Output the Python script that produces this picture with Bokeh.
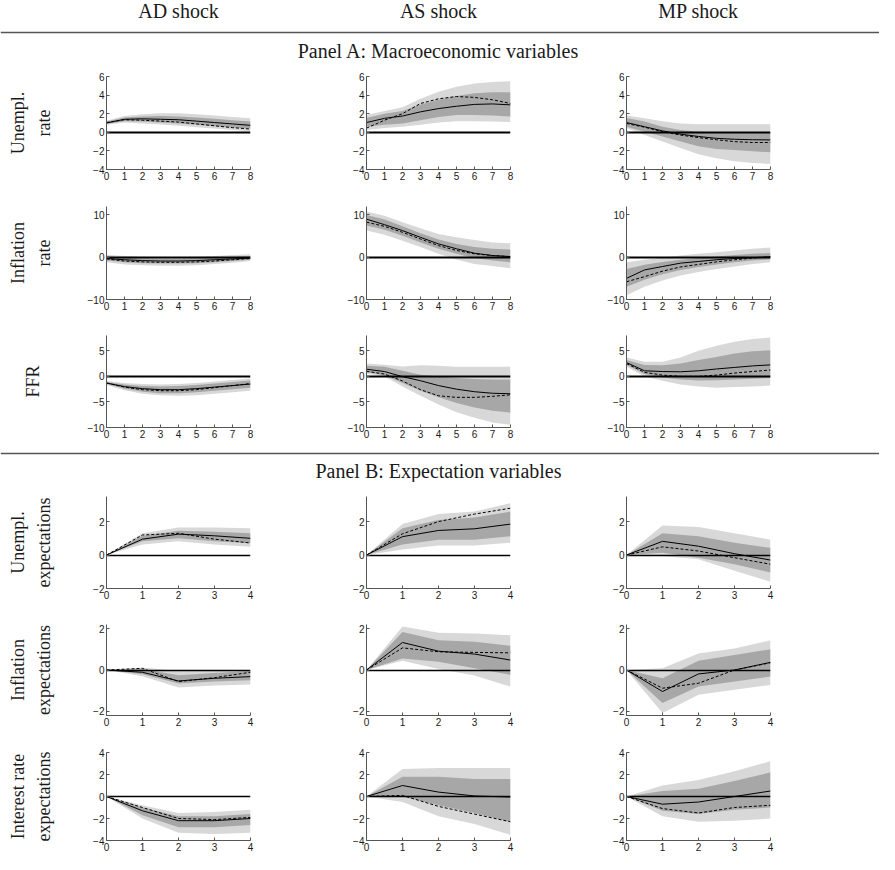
import math
from bokeh.plotting import figure
from bokeh.layouts import row, column
from bokeh.models import Range1d, FixedTicker
from bokeh.core.properties import value
from bokeh.embed import file_html
from bokeh.resources import INLINE

# ---------------- data ----------------
H8 = [0, 1, 2, 3, 4, 5, 6, 7, 8]
H4 = [0, 1, 2, 3, 4]

SHOCKS = ["AD shock", "AS shock", "MP shock"]
PANEL_A = "Panel A: Macroeconomic variables"
PANEL_B = "Panel B: Expectation variables"
ROW_LABELS = [["Unempl.", "rate"], ["Inflation", "rate"], ["FFR"],
              ["Unempl.", "expectations"], ["Inflation", "expectations"],
              ["Interest rate", "expectations"]]
Y_LIMITS = [(-4, 6), (-10, 12), (-10, 8), (-2, 3.5), (-2.2, 2.2), (-4, 4)]
Y_TICKS = [[-4, -2, 0, 2, 4, 6], [-10, 0, 10], [-10, -5, 0, 5],
           [-2, 0, 2], [-2, 0, 2], [-4, -2, 0, 2, 4]]
HORIZONS = [H8, H8, H8, H4, H4, H4]

# Unemployment rate
ur_ad_solid = [1.0, 1.4, 1.45, 1.4, 1.35, 1.2, 1.05, 0.9, 0.75]
ur_ad_dash = [1.05, 1.35, 1.3, 1.2, 1.1, 0.9, 0.7, 0.5, 0.35]
ur_ad_in_lo = [0.9, 1.2, 1.15, 1.05, 0.95, 0.8, 0.65, 0.5, 0.4]
ur_ad_in_hi = [1.15, 1.6, 1.7, 1.75, 1.7, 1.6, 1.45, 1.3, 1.15]
ur_ad_out_lo = [0.8, 1.05, 0.95, 0.85, 0.7, 0.55, 0.4, 0.25, 0.1]
ur_ad_out_hi = [1.25, 1.75, 1.95, 2.05, 2.05, 1.95, 1.8, 1.65, 1.5]

ur_as_solid = [1.05, 1.5, 1.75, 2.2, 2.55, 2.8, 3.0, 3.05, 2.95]
ur_as_dash = [0.45, 1.3, 2.0, 3.1, 3.6, 3.85, 3.75, 3.5, 3.1]
ur_as_in_lo = [0.6, 0.8, 0.95, 1.3, 1.65, 1.85, 1.85, 1.8, 1.7]
ur_as_in_hi = [1.55, 2.0, 2.3, 3.0, 3.5, 3.9, 4.2, 4.3, 4.3]
ur_as_out_lo = [0.25, 0.45, 0.6, 0.8, 1.05, 1.2, 1.2, 1.15, 1.1]
ur_as_out_hi = [1.85, 2.3, 2.7, 3.6, 4.35, 4.9, 5.25, 5.4, 5.5]

ur_mp_solid = [1.05, 0.6, 0.15, -0.2, -0.45, -0.65, -0.75, -0.8, -0.82]
ur_mp_dash = [0.95, 0.55, 0.07, -0.3, -0.57, -0.8, -1.0, -1.1, -1.1]
ur_mp_in_lo = [0.6, 0.07, -0.45, -1.0, -1.5, -1.8, -1.9, -2.05, -2.15]
ur_mp_in_hi = [1.55, 1.15, 0.6, 0.25, 0.07, 0.0, 0.0, -0.02, -0.03]
ur_mp_out_lo = [0.45, -0.3, -1.0, -1.7, -2.35, -2.8, -3.1, -3.3, -3.4]
ur_mp_out_hi = [1.8, 1.5, 1.2, 0.95, 0.86, 0.86, 0.86, 0.86, 0.86]

# Inflation rate
inf_ad_solid = [-0.3, -0.6, -0.8, -0.9, -0.9, -0.8, -0.6, -0.4, -0.2]
inf_ad_dash = [-0.4, -0.9, -1.1, -1.2, -1.2, -1.1, -0.9, -0.6, -0.3]
inf_ad_in_lo = [-0.8, -1.2, -1.4, -1.5, -1.5, -1.4, -1.2, -0.9, -0.6]
inf_ad_in_hi = [0.2, -0.1, -0.3, -0.4, -0.4, -0.3, -0.1, 0.1, 0.3]
inf_ad_out_lo = [-1.2, -1.7, -1.9, -2.0, -2.0, -1.9, -1.6, -1.3, -0.9]
inf_ad_out_hi = [0.6, 0.3, 0.1, 0.0, 0.0, 0.1, 0.3, 0.5, 0.7]

inf_as_solid = [9.0, 7.7, 6.3, 4.7, 3.15, 2.0, 0.95, 0.4, 0.15]
inf_as_dash = [8.3, 7.3, 5.9, 4.3, 2.75, 1.6, 0.8, 0.4, 0.15]
inf_as_in_lo = [7.5, 6.5, 5.1, 3.5, 2.0, 0.8, -0.2, -0.8, -1.2]
inf_as_in_hi = [10.0, 8.9, 7.3, 5.7, 4.2, 3.15, 2.4, 2.0, 1.8]
inf_as_out_lo = [6.3, 5.3, 3.9, 2.4, 0.8, -0.55, -1.6, -2.1, -2.6]
inf_as_out_hi = [10.8, 9.8, 8.3, 6.85, 5.5, 4.7, 4.1, 3.5, 3.3]

inf_mp_solid = [-5.0, -3.0, -2.2, -1.4, -1.0, -0.6, -0.3, -0.1, 0.1]
inf_mp_dash = [-5.8, -4.6, -3.3, -2.3, -1.7, -1.1, -0.6, -0.2, 0.1]
inf_mp_in_lo = [-7.0, -5.3, -4.0, -3.0, -2.3, -1.7, -1.2, -0.8, -0.5]
inf_mp_in_hi = [-2.8, -1.8, -1.1, -0.6, -0.2, 0.2, 0.5, 0.8, 1.0]
inf_mp_out_lo = [-9.0, -7.0, -5.5, -4.3, -3.5, -2.8, -2.2, -1.6, -1.2]
inf_mp_out_hi = [-1.2, -0.6, -0.1, 0.4, 0.8, 1.2, 1.6, 2.0, 2.3]

# Federal funds rate
ffr_ad_solid = [-1.3, -2.0, -2.4, -2.6, -2.6, -2.4, -2.1, -1.8, -1.5]
ffr_ad_dash = [-1.3, -2.1, -2.6, -2.8, -2.8, -2.6, -2.2, -1.8, -1.4]
ffr_ad_in_lo = [-1.5, -2.4, -3.0, -3.3, -3.3, -3.1, -2.8, -2.5, -2.2]
ffr_ad_in_hi = [-1.1, -1.6, -1.9, -2.0, -1.9, -1.7, -1.4, -1.1, -0.8]
ffr_ad_out_lo = [-1.7, -2.7, -3.4, -3.7, -3.8, -3.7, -3.4, -3.1, -2.8]
ffr_ad_out_hi = [-0.9, -1.3, -1.5, -1.6, -1.5, -1.3, -1.0, -0.7, -0.4]

ffr_as_solid = [1.4, 0.95, -0.05, -0.85, -1.8, -2.5, -3.0, -3.3, -3.4]
ffr_as_dash = [1.0, 0.45, -0.9, -2.6, -3.8, -4.1, -4.1, -3.9, -3.6]
ffr_as_in_lo = [0.8, 0.2, -1.3, -2.8, -4.1, -5.2, -6.1, -6.7, -7.1]
ffr_as_in_hi = [2.1, 1.9, 1.1, 0.3, 0.0, -0.3, -0.5, -0.6, -0.6]
ffr_as_out_lo = [0.5, 0.0, -2.0, -3.8, -5.5, -7.0, -8.1, -9.0, -9.5]
ffr_as_out_hi = [2.5, 2.3, 1.95, 2.2, 2.1, 1.9, 1.9, 1.9, 1.9]

ffr_mp_solid = [2.7, 1.1, 0.95, 0.9, 1.1, 1.45, 1.75, 2.05, 2.25]
ffr_mp_dash = [2.5, 0.8, 0.25, 0.0, 0.0, 0.25, 0.65, 0.95, 1.25]
ffr_mp_in_lo = [2.25, 0.45, -0.2, -0.6, -0.8, -0.75, -0.6, -0.45, -0.3]
ffr_mp_in_hi = [3.2, 2.25, 2.2, 2.5, 3.2, 3.8, 4.5, 4.9, 5.1]
ffr_mp_out_lo = [1.9, 0.0, -0.85, -1.6, -2.0, -2.2, -2.1, -2.0, -1.8]
ffr_mp_out_hi = [3.7, 2.85, 2.85, 3.7, 5.0, 6.0, 6.8, 7.3, 7.6]

# Unemployment expectations
ue_ad_solid = [0, 0.95, 1.25, 1.15, 1.0]
ue_ad_dash = [0, 1.2, 1.3, 0.95, 0.72]
ue_ad_in_lo = [0, 0.82, 1.0, 0.82, 0.7]
ue_ad_in_hi = [0, 1.15, 1.45, 1.4, 1.3]
ue_ad_out_lo = [0, 0.63, 0.82, 0.63, 0.5]
ue_ad_out_hi = [0, 1.3, 1.65, 1.65, 1.6]

ue_as_solid = [0, 1.1, 1.47, 1.57, 1.85]
ue_as_dash = [0, 1.27, 2.0, 2.45, 2.8]
ue_as_in_lo = [0, 0.63, 0.92, 0.92, 1.12]
ue_as_in_hi = [0, 1.6, 2.1, 2.25, 2.6]
ue_as_out_lo = [0, 0.33, 0.57, 0.57, 0.73]
ue_as_out_hi = [0, 1.86, 2.45, 2.6, 3.1]

ue_mp_solid = [0, 0.82, 0.53, 0.08, -0.3]
ue_mp_dash = [0, 0.49, 0.24, -0.16, -0.55]
ue_mp_in_lo = [0, 0.14, -0.16, -0.55, -1.04]
ue_mp_in_hi = [0, 1.31, 1.12, 0.73, 0.43]
ue_mp_out_lo = [0, -0.06, -0.25, -0.94, -1.59]
ue_mp_out_hi = [0, 1.76, 1.67, 1.31, 0.92]

# Inflation expectations
ie_ad_solid = [0, -0.11, -0.53, -0.4, -0.32]
ie_ad_dash = [0, 0.08, -0.56, -0.37, -0.11]
ie_ad_in_lo = [0, -0.2, -0.65, -0.55, -0.5]
ie_ad_in_hi = [0, 0.05, -0.25, -0.15, -0.05]
ie_ad_out_lo = [0, -0.3, -0.85, -0.75, -0.7]
ie_ad_out_hi = [0, 0.12, -0.05, -0.02, 0.0]

ie_as_solid = [0, 1.33, 0.91, 0.77, 0.48]
ie_as_dash = [0, 1.07, 0.88, 0.85, 0.83]
ie_as_in_lo = [0, 0.56, 0.4, 0.08, -0.24]
ie_as_in_hi = [0, 1.84, 1.44, 1.36, 1.17]
ie_as_out_lo = [0, 0.45, 0.05, -0.27, -0.8]
ie_as_out_hi = [0, 2.1, 1.8, 1.76, 1.68]

ie_mp_solid = [0, -1.04, -0.19, 0.0, 0.37]
ie_mp_dash = [0, -0.88, -0.64, 0.0, 0.35]
ie_mp_in_lo = [0, -1.6, -0.8, -0.56, -0.32]
ie_mp_in_hi = [0, -0.4, 0.45, 0.72, 1.0]
ie_mp_out_lo = [0, -2.08, -1.2, -0.96, -0.72]
ie_mp_out_hi = [0, 0.08, 0.8, 1.04, 1.44]

# Interest rate expectations
re_ad_solid = [0, -1.3, -2.2, -2.2, -2.0]
re_ad_dash = [0, -1.0, -2.0, -2.1, -1.9]
re_ad_in_lo = [0, -1.7, -2.8, -2.8, -2.6]
re_ad_in_hi = [0, -1.0, -1.8, -1.8, -1.6]
re_ad_out_lo = [0, -2.0, -3.3, -3.4, -3.3]
re_ad_out_hi = [0, -0.8, -1.5, -1.4, -1.2]

re_as_solid = [0, 1.0, 0.4, 0.05, -0.05]
re_as_dash = [0, 0.1, -0.9, -1.6, -2.3]
re_as_in_lo = [0, 0.0, -0.8, -1.5, -2.3]
re_as_in_hi = [0, 1.8, 1.8, 1.6, 1.6]
re_as_out_lo = [0, -0.5, -1.8, -2.5, -3.5]
re_as_out_hi = [0, 2.5, 2.6, 2.6, 2.6]

re_mp_solid = [0, -0.7, -0.5, 0.0, 0.5]
re_mp_dash = [0, -1.1, -1.5, -1.0, -0.8]
re_mp_in_lo = [0, -1.3, -1.6, -1.2, -1.0]
re_mp_in_hi = [0, 0.5, 0.7, 1.4, 2.2]
re_mp_out_lo = [0, -1.8, -2.3, -2.2, -2.0]
re_mp_out_hi = [0, 1.0, 1.5, 2.3, 3.2]

PANELS = [
    [(ur_ad_solid, ur_ad_dash, ur_ad_in_lo, ur_ad_in_hi, ur_ad_out_lo, ur_ad_out_hi),
     (ur_as_solid, ur_as_dash, ur_as_in_lo, ur_as_in_hi, ur_as_out_lo, ur_as_out_hi),
     (ur_mp_solid, ur_mp_dash, ur_mp_in_lo, ur_mp_in_hi, ur_mp_out_lo, ur_mp_out_hi)],
    [(inf_ad_solid, inf_ad_dash, inf_ad_in_lo, inf_ad_in_hi, inf_ad_out_lo, inf_ad_out_hi),
     (inf_as_solid, inf_as_dash, inf_as_in_lo, inf_as_in_hi, inf_as_out_lo, inf_as_out_hi),
     (inf_mp_solid, inf_mp_dash, inf_mp_in_lo, inf_mp_in_hi, inf_mp_out_lo, inf_mp_out_hi)],
    [(ffr_ad_solid, ffr_ad_dash, ffr_ad_in_lo, ffr_ad_in_hi, ffr_ad_out_lo, ffr_ad_out_hi),
     (ffr_as_solid, ffr_as_dash, ffr_as_in_lo, ffr_as_in_hi, ffr_as_out_lo, ffr_as_out_hi),
     (ffr_mp_solid, ffr_mp_dash, ffr_mp_in_lo, ffr_mp_in_hi, ffr_mp_out_lo, ffr_mp_out_hi)],
    [(ue_ad_solid, ue_ad_dash, ue_ad_in_lo, ue_ad_in_hi, ue_ad_out_lo, ue_ad_out_hi),
     (ue_as_solid, ue_as_dash, ue_as_in_lo, ue_as_in_hi, ue_as_out_lo, ue_as_out_hi),
     (ue_mp_solid, ue_mp_dash, ue_mp_in_lo, ue_mp_in_hi, ue_mp_out_lo, ue_mp_out_hi)],
    [(ie_ad_solid, ie_ad_dash, ie_ad_in_lo, ie_ad_in_hi, ie_ad_out_lo, ie_ad_out_hi),
     (ie_as_solid, ie_as_dash, ie_as_in_lo, ie_as_in_hi, ie_as_out_lo, ie_as_out_hi),
     (ie_mp_solid, ie_mp_dash, ie_mp_in_lo, ie_mp_in_hi, ie_mp_out_lo, ie_mp_out_hi)],
    [(re_ad_solid, re_ad_dash, re_ad_in_lo, re_ad_in_hi, re_ad_out_lo, re_ad_out_hi),
     (re_as_solid, re_as_dash, re_as_in_lo, re_as_in_hi, re_as_out_lo, re_as_out_hi),
     (re_mp_solid, re_mp_dash, re_mp_in_lo, re_mp_in_hi, re_mp_out_lo, re_mp_out_hi)],
]

# ---------------- layout / style ----------------
TOTAL_W = 879
LABEL_W = 70
FW = 144
COL_BORDERS = [(36, 58), (58, 58), (58, 109)]
ROW_GEOM = [(14, 93, 22), (15, 93, 21), (15, 92, 22),
            (14, 92, 18), (18, 91, 18), (19, 88, 14)]
HEADER_H = 62
SEP_H = 33
SERIF = "Liberation Serif"
SANS = "Liberation Sans"
OUTER = "#d8d8d8"
INNER = "#a7a7a7"
AXIS_COL = "#555555"
TEXT_COL = "#1a1a1a"


def blank(w, h):
    p = figure(width=w, height=h, x_range=Range1d(0, w), y_range=Range1d(0, h),
               output_backend="svg", toolbar_location=None,
               x_axis_type=None, y_axis_type=None,
               min_border_left=0, min_border_right=0,
               min_border_top=0, min_border_bottom=0)
    p.outline_line_color = None
    p.xgrid.visible = False
    p.ygrid.visible = False
    return p


# centres of each column's plot frame (in figure coords of a full-width strip)
col_centres = []
xpos = LABEL_W
for (l, r) in COL_BORDERS:
    col_centres.append(xpos + l + FW / 2)
    xpos += l + FW + r

header = blank(TOTAL_W, HEADER_H)
header.text(x=col_centres, y=[52] * 3, text=SHOCKS, text_align="center",
            text_baseline="middle", text_font=value(SERIF), text_font_size="20px",
            text_color=TEXT_COL)
header.hspan(y=[30], line_color="#555555", line_width=1.3)
header.text(x=[col_centres[1]], y=[12], text=[PANEL_A], text_align="center",
            text_baseline="middle", text_font=value(SERIF), text_font_size="20px",
            text_color=TEXT_COL)

sep = blank(TOTAL_W, SEP_H)
sep.hspan(y=[29], line_color="#555555", line_width=1.3)
sep.text(x=[col_centres[1]], y=[12], text=[PANEL_B], text_align="center",
         text_baseline="middle", text_font=value(SERIF), text_font_size="20px",
         text_color=TEXT_COL)


def label_strip(row_ids):
    heights = [sum(ROW_GEOM[ri]) for ri in row_ids]
    total = sum(heights)
    p = blank(LABEL_W, total)
    xs, ys, texts = [], [], []
    y_top = 0
    for ri, h in zip(row_ids, heights):
        top, fh, bot = ROW_GEOM[ri]
        yc = total - (y_top + top + fh / 2)
        lines = ROW_LABELS[ri]
        lx = [32] if len(lines) == 1 else [17, 43]
        xs += lx
        ys += [yc] * len(lines)
        texts += lines
        y_top += h
    p.text(x=xs, y=ys, text=texts, angle=math.pi / 2,
           text_align="center", text_baseline="middle",
           text_font=value(SERIF), text_font_size="18px", text_color=TEXT_COL)
    return p


def panel(ri, ci):
    top, fh, bot = ROW_GEOM[ri]
    left, right = COL_BORDERS[ci]
    xs = HORIZONS[ri]
    solid, dash, in_lo, in_hi, out_lo, out_hi = PANELS[ri][ci]
    p = figure(width=left + FW + right, height=top + fh + bot,
               x_range=Range1d(xs[0], xs[-1]), y_range=Range1d(*Y_LIMITS[ri]),
               output_backend="svg", toolbar_location=None,
               min_border_left=left, min_border_right=right,
               min_border_top=top, min_border_bottom=bot)
    p.outline_line_color = None
    p.xgrid.visible = False
    p.ygrid.visible = False
    p.varea(x=xs, y1=out_lo, y2=out_hi, fill_color=OUTER)
    p.varea(x=xs, y1=in_lo, y2=in_hi, fill_color=INNER)
    p.hspan(y=[0], line_color="black", line_width=1.8 if ri < 3 else 1.6)
    p.line(xs, solid, line_color="black", line_width=1)
    p.line(xs, dash, line_color="black", line_width=1, line_dash="3 2")

    p.xaxis.ticker = FixedTicker(ticks=xs)
    p.yaxis.ticker = FixedTicker(ticks=Y_TICKS[ri])
    p.yaxis.major_label_overrides = {t: "\u2212" + str(abs(t)) for t in Y_TICKS[ri] if t < 0}
    for ax in (p.xaxis[0], p.yaxis[0]):
        ax.axis_line_color = AXIS_COL
        ax.axis_line_width = 1
        ax.major_tick_line_color = AXIS_COL
        ax.major_tick_in = 3
        ax.major_tick_out = 0
        ax.minor_tick_line_color = None
        ax.major_label_text_font = SANS
        ax.major_label_text_font_size = "10px"
        ax.major_label_text_color = TEXT_COL
        ax.major_label_standoff = 2
    return p


def group(row_ids):
    panel_rows = [row(*[panel(ri, ci) for ci in range(3)], spacing=0) for ri in row_ids]
    return row(label_strip(row_ids), column(*panel_rows, spacing=0), spacing=0)


layout = column(header, group([0, 1, 2]), sep, group([3, 4, 5]), spacing=0)

open("out.html", "w").write(file_html(layout, INLINE))
